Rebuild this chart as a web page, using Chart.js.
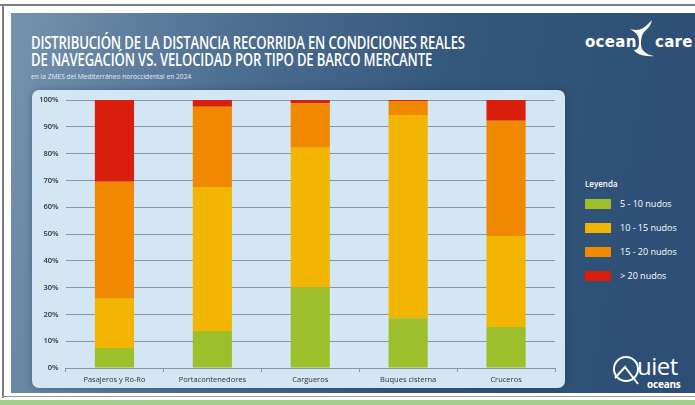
<!DOCTYPE html>
<html>
<head>
<meta charset="utf-8">
<script src="https://cdn.jsdelivr.net/npm/chart.js@4"></script>
<style>
  html, body { margin: 0; padding: 0; background: #fff; }
  #wrap { position: relative; width: 695px; height: 405px; overflow: hidden; font-family: "Open Sans", sans-serif; }
  #bg { position: absolute; left: 11px; top: 13px; width: 684px; height: 380px;
        background: linear-gradient(100deg, #7593ae 0%, #4d6f92 30%, #34577c 60%, #2c4e74 100%); }
  #panel { position: absolute; left: 32px; top: 90px; width: 533px; height: 298px; border-radius: 7px;
           background: #d3e6f3; box-shadow: 0 0 6px rgba(20,40,70,0.35); }
  #frameTop { position: absolute; left: 0; top: 4px; width: 695px; height: 2px; background: #7d7d7d; }
  #frameLeft { position: absolute; left: 2px; top: 4px; width: 2px; height: 394px; background: #7d7d7d; }
  #frameBot { position: absolute; left: 2px; top: 396px; width: 693px; height: 1px; background: #9a9a9a; }
  #green { position: absolute; left: 0; top: 400px; width: 695px; height: 5px; background: #9fcf88; }
  canvas { position: absolute; left: 0; top: 0; }
  .title { position: absolute; left: 31px; color: #fff; font-weight: 600; font-size: 18px; white-space: nowrap;
           transform-origin: 0 0; letter-spacing: -0.2px; }
  #sub { position: absolute; left: 31px; top: 70px; color: #e4edf5; font-size: 8px; white-space: nowrap; transform-origin: 0 0; }
  #legend { position: absolute; left: 585px; top: 178px; color: #fff; }
  #legend .head { font-size: 8px; font-weight: 600; margin-bottom: 10px; }
  #legend .item { height: 10px; margin-bottom: 14px; position: relative; font-size: 9px; line-height: 10px; white-space: nowrap; }
  #legend .sw { position: absolute; left: 0; top: 0; width: 26px; height: 10px; }
  #legend .txt { position: absolute; left: 35px; top: 0; }
  .logo { position: absolute; color: #fff; white-space: nowrap; }
</style>
</head>
<body>
<div id="wrap">
  <div id="frameTop"></div>
  <div id="frameLeft"></div>
  <div id="frameBot"></div>
  <div id="green"></div>
  <div id="bg"></div>
  <div id="panel"></div>
  <div class="title" id="t1" style="top:30px">DISTRIBUCIÓN DE LA DISTANCIA RECORRIDA EN CONDICIONES REALES</div>
  <div class="title" id="t2" style="top:47px">DE NAVEGACIÓN VS. VELOCIDAD POR TIPO DE BARCO MERCANTE</div>
  <div id="sub">en la ZMES del Mediterráneo noroccidental en 2024</div>
  <div class="logo" style="left:585px;top:33px;font-size:15px;font-weight:700;font-family:'DejaVu Sans',sans-serif;letter-spacing:0.3px">ocean</div>
  <div class="logo" style="left:655px;top:33px;font-size:15px;font-weight:700;font-family:'DejaVu Sans',sans-serif;letter-spacing:0.3px">care</div>
  <svg class="logo" style="left:628px;top:20px" width="30" height="40" viewBox="0 0 30 40">
    <path d="M2 9 C9 11 13 10 18 6 C20 4 22 2 24 0 C23 4 21 8 17 11 C14 14 13 18 13 24 C13 30 17 34 26 36 C17 37 8 34 6 30 C10 30 11 27 11 22 C11 16 9 13 2 9 Z" fill="#fff"/>
  </svg>
  <svg class="logo" style="left:612px;top:354px" width="32" height="34" viewBox="0 0 32 34">
    <circle cx="14" cy="15" r="12" fill="none" stroke="#fff" stroke-width="2"/>
    <path d="M3 24 L13 13 L26 30" fill="none" stroke="#fff" stroke-width="2"/>
  </svg>
  <div class="logo" style="left:637px;top:349px;font-size:24px;font-family:'Open Sans',sans-serif;font-weight:400;letter-spacing:-0.5px">uiet</div>
  <div class="logo" style="left:647px;top:377px;font-size:10px;font-weight:700;font-family:'Open Sans',sans-serif;letter-spacing:-0.2px">oceans</div>
  <div id="legend"><div class="head">Leyenda</div></div>
  <canvas id="chart" width="695" height="405"></canvas>
</div>
<script>
const categories = ['Pasajeros y Ro-Ro', 'Portacontenedores', 'Cargueros', 'Buques cisterna', 'Cruceros'];
const seriesNames = ['5 - 10 nudos', '10 - 15 nudos', '15 - 20 nudos', '> 20 nudos'];
const seriesColors = ['#9dbf2c', '#f2b500', '#f08800', '#d91f0b'];
const v5to10 = [7.5, 13.8, 30, 18.6, 15.3];
const v10to15 = [18.3, 53.7, 52.2, 75.8, 34];
const v15to20 = [43.7, 30, 16.6, 5.2, 43];
const vOver20 = [30.5, 2.5, 1.2, 0.4, 7.7];
const yTicks = [0, 10, 20, 30, 40, 50, 60, 70, 80, 90, 100];

// squeeze the text lines to the widths they have in the original
function fitWidth(id, w) {
  const el = document.getElementById(id);
  el.style.transform = 'scaleX(' + (w / el.offsetWidth) + ')';
}
fitWidth('t1', 434);
fitWidth('t2', 401);
fitWidth('sub', 160);

const allValues = [v5to10, v10to15, v15to20, vOver20];
const datasets = seriesNames.map(function (name, i) {
  return {
    label: name,
    data: allValues[i],
    backgroundColor: seriesColors[i],
    borderWidth: 0,
    barPercentage: 0.4,
    categoryPercentage: 1
  };
});

const gridColor = '#8797a6';
const ctx = document.getElementById('chart').getContext('2d');
const myChart = new Chart(ctx, {
  type: 'bar',
  data: { labels: categories, datasets: datasets },
  options: {
    responsive: false,
    animation: false,
    devicePixelRatio: 1,
    layout: { padding: { left: 32, right: 140, top: 100, bottom: 20 } },
    plugins: { legend: { display: false }, tooltip: { enabled: false } },
    scales: {
      x: {
        stacked: true,
        offset: true,
        afterFit: function (s) { s.height = 17; },
        grid: { offset: true, drawOnChartArea: false, color: gridColor, tickLength: 4 },
        border: { color: gridColor },
        ticks: { color: '#333', padding: 3, font: { family: 'Open Sans', size: 7.5 } }
      },
      y: {
        stacked: true,
        min: 0,
        max: 100,
        afterFit: function (s) { s.width = 33.5; },
        afterBuildTicks: function (s) { s.ticks = yTicks.map(function (v) { return { value: v }; }); },
        grid: { color: gridColor, drawTicks: false },
        border: { display: false },
        ticks: {
          color: '#333',
          padding: 7,
          font: { family: 'Open Sans', size: 7.5, weight: '600' },
          callback: function (v) { return v + '%'; }
        }
      }
    }
  }
});

// legend from the chart's own datasets
const legendEl = document.getElementById('legend');
myChart.data.datasets.forEach(function (ds) {
  const item = document.createElement('div');
  item.className = 'item';
  item.innerHTML = '<span class="sw" style="background:' + ds.backgroundColor + '"></span><span class="txt"></span>';
  item.querySelector('.txt').textContent = ds.label;
  legendEl.appendChild(item);
});
</script>
</body>
</html>
